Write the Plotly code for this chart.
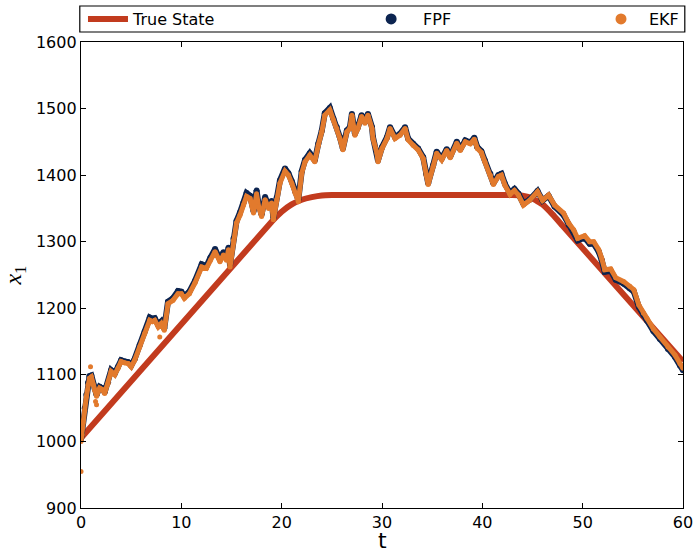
import plotly.graph_objects as go

# ---- data ----
true_t = [0, 19, 20, 21, 22, 23, 24, 25, 43, 44, 45, 46, 47, 48, 60]
true_v = [1005, 1330, 1345, 1356, 1363, 1367, 1369.5, 1370, 1370, 1369, 1365, 1356, 1341, 1324, 1120]

t_est = [0.0, 0.1, 0.2, 0.37, 0.53, 0.7, 0.85, 1.03, 1.2, 1.36, 1.55, 1.86, 2.1, 2.36, 2.7,
         3.0, 3.36, 3.7, 4.0, 4.35, 4.7, 5.0, 5.35, 5.85, 6.35, 6.85, 7.1, 7.35, 7.7, 8.0,
         8.3, 8.67, 9.17, 9.67, 10.0, 10.3, 10.8, 11.36, 12.03, 12.5, 12.9, 13.36, 13.85, 14.2, 14.5,
         14.7, 14.85, 15.2, 15.5, 15.85, 16.2, 16.5, 16.85, 17.2, 17.5, 17.7, 18.0, 18.35, 18.7, 19.0,
         19.17, 19.5, 19.83, 20.33, 20.67, 21.0, 21.33, 21.66, 22.0, 22.33, 22.8, 23.3, 23.65, 24.0, 24.3,
         24.8, 25.15, 25.5, 25.8, 26.1, 26.5, 26.8, 27.0, 27.3, 27.6, 27.97, 28.3, 28.6, 29.0, 29.1,
         29.5, 29.6, 30.0, 30.5, 30.8, 31.3, 31.8, 32.3, 32.6, 33.1, 33.6, 34.1, 34.4, 34.6, 35.1,
         35.45, 35.95, 36.45, 36.8, 37.45, 37.8, 38.3, 38.8, 39.2, 39.5, 39.9, 40.25, 40.8, 41.1, 41.6,
         41.9, 42.25, 42.75, 43.2, 43.6, 44.1, 44.7, 45.5, 46.0, 46.6, 47.2, 48.1, 48.6, 49.1, 49.5,
         50.2, 50.7, 51.1, 51.6, 51.9, 52.2, 52.8, 53.3, 54.1, 54.7, 55.1, 55.6, 56.05, 56.4, 57.05,
         57.7, 58.5, 59.2, 59.7, 60.0]

ekf_v = [1000, 1010, 1028, 1047, 1067, 1085, 1095, 1097, 1085, 1077, 1068, 1080, 1078, 1072, 1087,
         1105, 1100, 1110, 1120, 1118, 1117, 1112, 1122, 1142, 1162, 1182, 1180, 1182, 1172, 1177,
         1167, 1207, 1212, 1222, 1222, 1215, 1222, 1238, 1262, 1260, 1272, 1285, 1270, 1280, 1272,
         1288, 1262, 1302, 1328, 1340, 1355, 1368, 1365, 1343, 1372, 1353, 1338, 1363, 1350, 1358,
         1333, 1363, 1388, 1406, 1400, 1388, 1373, 1360, 1403, 1420, 1430, 1420, 1445, 1465, 1490,
         1498, 1483, 1470, 1455, 1438, 1465, 1470, 1490, 1460, 1470, 1488, 1478, 1490, 1470, 1455,
         1433, 1420, 1440, 1455, 1470, 1455, 1460, 1470, 1453, 1445, 1438, 1425, 1400, 1386, 1413,
         1433, 1423, 1437, 1426, 1448, 1437, 1450, 1447, 1454, 1440, 1434, 1420, 1400, 1386, 1398,
         1400, 1385, 1371, 1377, 1370, 1355, 1362, 1375, 1362, 1370, 1355, 1343, 1328, 1318, 1305,
         1309, 1300, 1300, 1288, 1275, 1258, 1259, 1246, 1240, 1233, 1228, 1205, 1193, 1185, 1169,
         1157, 1142, 1130, 1117, 1110]

fpf_v = [1003, 1015, 1030, 1050, 1070, 1088, 1098, 1099, 1087, 1079, 1070, 1082, 1080, 1074, 1089,
         1107, 1102, 1112, 1122, 1120, 1119, 1114, 1124, 1145, 1165, 1186, 1184, 1185, 1175, 1180,
         1170, 1210, 1215, 1226, 1225, 1218, 1225, 1241, 1266, 1263, 1276, 1289, 1273, 1284, 1275,
         1291, 1265, 1305, 1331, 1344, 1359, 1373, 1369, 1346, 1377, 1356, 1341, 1367, 1353, 1361,
         1336, 1366, 1392, 1410, 1403, 1391, 1376, 1363, 1406, 1423, 1433, 1422, 1447, 1467, 1493,
         1501, 1485, 1472, 1457, 1440, 1467, 1472, 1492, 1462, 1472, 1490, 1480, 1492, 1472, 1457,
         1435, 1422, 1442, 1457, 1472, 1457, 1462, 1472, 1455, 1447, 1440, 1427, 1402, 1388, 1415,
         1435, 1425, 1439, 1428, 1450, 1439, 1452, 1449, 1456, 1442, 1436, 1422, 1402, 1388, 1400,
         1402, 1387, 1373, 1379, 1372, 1357, 1363, 1376, 1362, 1369, 1353, 1340, 1325, 1315, 1302,
         1306, 1297, 1297, 1285, 1272, 1255, 1256, 1243, 1237, 1230, 1225, 1202, 1190, 1182, 1166,
         1154, 1139, 1127, 1114, 1107]

ekf_out_t = [0.0, 0.95, 1.45, 1.55, 7.85]
ekf_out_v = [955, 1112, 1060, 1055, 1157]

x_ticks = [0, 10, 20, 30, 40, 50, 60]
y_ticks = [900, 1000, 1100, 1200, 1300, 1400, 1500, 1600]

RED = "#C23B1E"
NAVY = "#0C2450"
ORANGE = "#E27A2D"

fig = go.Figure()

fig.add_trace(go.Scatter(x=true_t, y=true_v, mode="lines", name="True State",
                         line=dict(color=RED, width=6, shape="spline", smoothing=0.3),
                         legend="legend"))
fig.add_trace(go.Scatter(x=t_est, y=fpf_v, mode="lines+markers", name="FPF", showlegend=False,
                         line=dict(color=NAVY, width=6), marker=dict(color=NAVY, size=6)))
fig.add_trace(go.Scatter(x=t_est, y=ekf_v, mode="lines+markers", name="EKF", showlegend=False,
                         line=dict(color=ORANGE, width=5), marker=dict(color=ORANGE, size=5)))
fig.add_trace(go.Scatter(x=ekf_out_t, y=ekf_out_v, mode="markers", name="EKF", showlegend=False,
                         marker=dict(color=ORANGE, size=5)))
# legend entries
fig.add_trace(go.Scatter(x=[None], y=[None], mode="markers", name="FPF",
                         marker=dict(color=NAVY, size=11), legend="legend2"))
fig.add_trace(go.Scatter(x=[None], y=[None], mode="markers", name="EKF",
                         marker=dict(color=ORANGE, size=11), legend="legend3"))

axis_common = dict(showline=True, linecolor="black", linewidth=1.3, mirror="ticks",
                   ticks="inside", ticklen=5, tickwidth=1, tickcolor="black",
                   showgrid=False, zeroline=False, automargin=False,
                   tickfont=dict(size=16, color="black"))

fig.update_xaxes(range=[0, 60], tickvals=x_ticks, ticktext=[str(v) for v in x_ticks],
                 **axis_common)
fig.update_yaxes(range=[900, 1600], tickvals=y_ticks, ticktext=[str(v) for v in y_ticks],
                 title=dict(text="<i>x</i><sub>1</sub>",
                            font=dict(size=24, family="Liberation Serif")), **axis_common)

leg = dict(orientation="v", yanchor="middle", y=1.0494, xanchor="left",
           bgcolor="rgba(0,0,0,0)", borderwidth=0, font=dict(size=16, color="black"))
fig.update_layout(
    width=695, height=554,
    margin=dict(l=81, r=12, t=42, b=46, autoexpand=False),
    plot_bgcolor="white", paper_bgcolor="white",
    font=dict(family="DejaVu Sans", size=16, color="black"),
    legend=dict(leg, x=0.0033, itemwidth=40),
    legend2=dict(leg, x=0.462, itemwidth=54),
    legend3=dict(leg, x=0.8505, itemwidth=46),
    shapes=[dict(type="rect", xref="paper", yref="paper", x0=-0.002, x1=1.003,
                 y0=1.0215, y1=1.0773, line=dict(color="black", width=1.2),
                 fillcolor="rgba(0,0,0,0)")],
    annotations=[dict(text="t", xref="paper", yref="paper", x=0.5, y=-0.0987,
                      xanchor="center", yanchor="bottom", showarrow=False,
                      font=dict(size=22, color="black"), borderpad=0)],
)

fig.write_html("out.html")
